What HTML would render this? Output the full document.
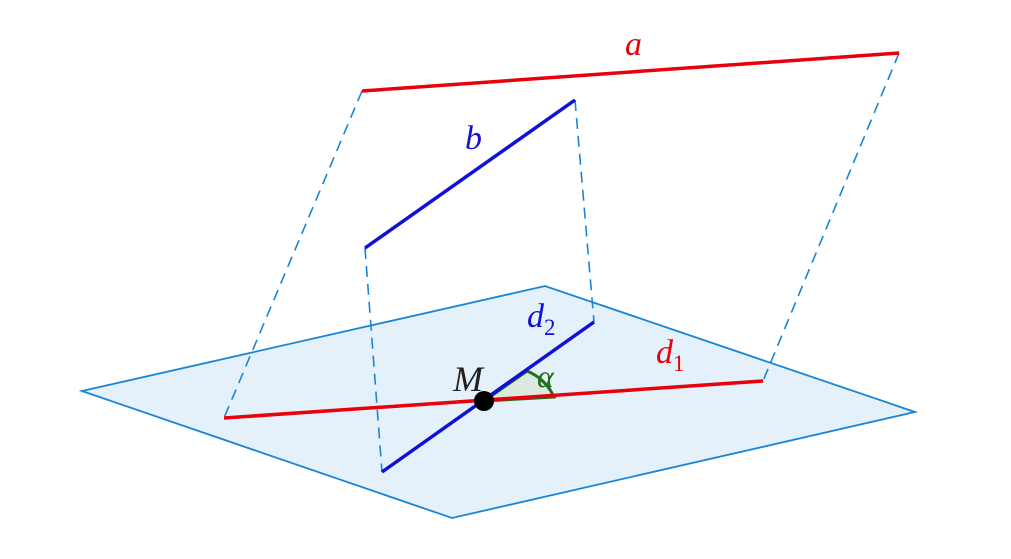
<!DOCTYPE html>
<html><head><style>html,body{margin:0;padding:0;background:#fff}</style></head><body>
<svg width="1011" height="554" xmlns="http://www.w3.org/2000/svg" font-family="Liberation Serif, serif" font-style="italic">
<polygon points="82,391 545,286 915,412 452,518" fill="#e4f1fb" stroke="#1a85d6" stroke-width="1.8"/>
<g stroke="#1a85d6" stroke-width="1.6" stroke-dasharray="11,7" fill="none">
<line x1="362" y1="91" x2="224" y2="418"/>
<line x1="899" y1="53" x2="763" y2="381"/>
<line x1="575" y1="100" x2="594" y2="322"/>
<line x1="365" y1="248" x2="382" y2="472"/>
</g>
<path d="M484,401 L527,371 A50,50 0 0 1 554,397 Z" fill="#dde9de" stroke="#1e6e1e" stroke-width="3"/>
<line x1="362" y1="91" x2="899" y2="53" stroke="#e8000b" stroke-width="3.5"/>
<line x1="365" y1="248" x2="575" y2="100" stroke="#1010d8" stroke-width="3.5"/>
<line x1="224" y1="418" x2="763" y2="381" stroke="#e8000b" stroke-width="3.5"/>
<line x1="382" y1="472" x2="594" y2="322" stroke="#1010d8" stroke-width="3.5"/>
<circle cx="484" cy="401" r="10" fill="#000"/>
<text x="625" y="55" font-size="34" fill="#e8000b">a</text>
<text x="465" y="149" font-size="34" fill="#1010d8">b</text>
<text x="527" y="327" font-size="34" fill="#1010d8">d<tspan font-size="23" font-style="normal" dy="8">2</tspan></text>
<text x="656" y="363" font-size="34" fill="#e8000b">d<tspan font-size="23" font-style="normal" dy="8">1</tspan></text>
<text x="453" y="391" font-size="36" fill="#222">M</text>
<text x="537" y="387" font-size="32" fill="#1e6e1e">α</text>
</svg>
</body></html>
